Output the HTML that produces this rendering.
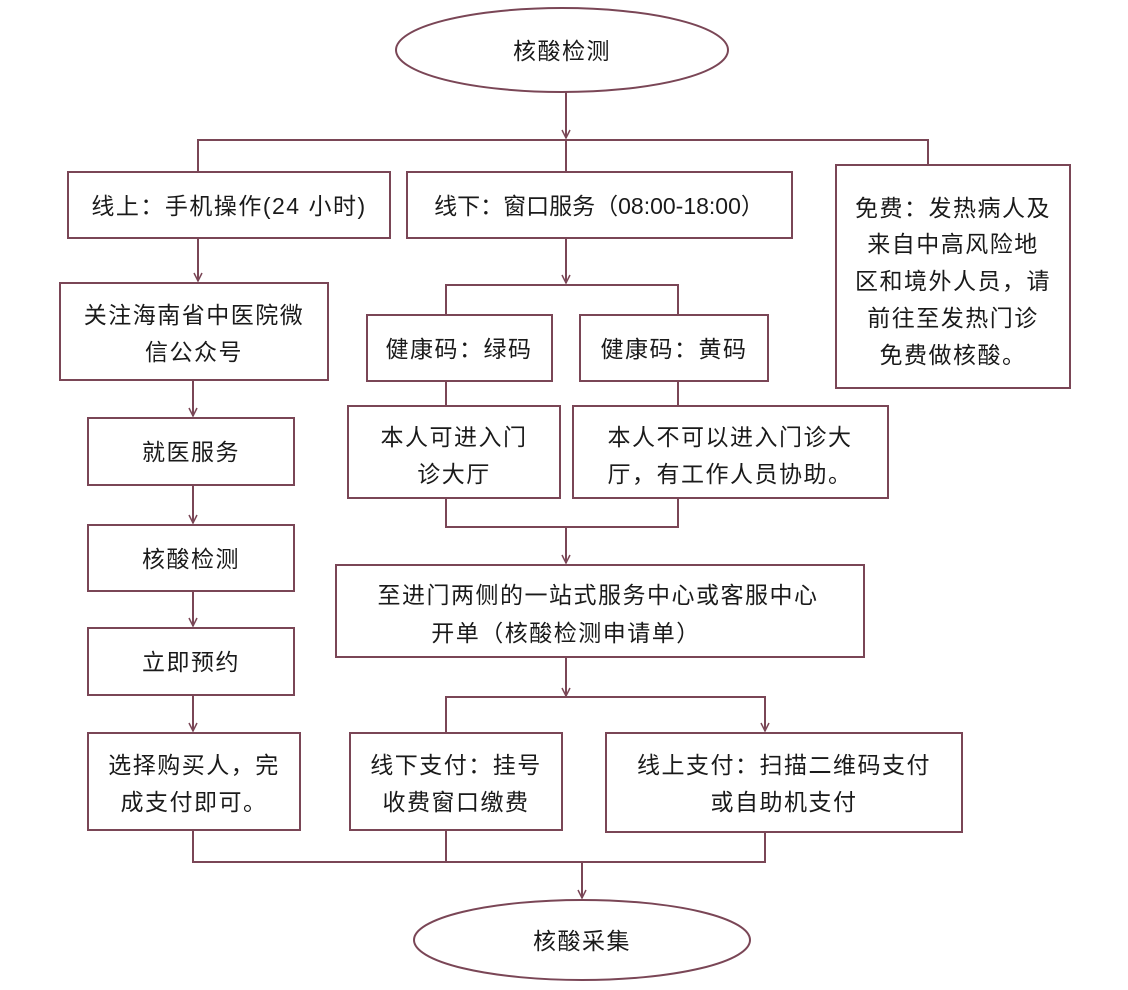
<!DOCTYPE html>
<html><head><meta charset="utf-8"><style>
html,body{margin:0;padding:0;background:#fff;}
svg{display:block;}
text{font-family:"Liberation Sans","Noto Sans CJK SC",sans-serif;font-size:23px;letter-spacing:1.5px;fill:#1a1a1a;text-anchor:middle;}
.b{fill:#fff;stroke:#7a4656;stroke-width:2;}
.l{stroke:#7a4656;stroke-width:2;fill:none;}
</style></head><body>
<svg width="1128" height="990" viewBox="0 0 1128 990">
<defs><marker id="a" markerWidth="12" markerHeight="12" refX="9" refY="6" orient="auto" markerUnits="userSpaceOnUse"><path d="M1,2 L9,6 L1,10" fill="none" stroke="#7a4656" stroke-width="1.5"/></marker></defs>
<ellipse class="b" cx="562" cy="50" rx="166" ry="42"/>
<text x="562" y="59">核酸检测</text>
<path class="l" d="M566 92 V138" marker-end="url(#a)"/>
<path class="l" d="M198 172 V140 H928 V165 M566 140 V172"/>
<rect class="b" x="68" y="172" width="322" height="66"/>
<text x="229" y="214">线上：手机操作(24 小时)</text>
<rect class="b" x="407" y="172" width="385" height="66"/>
<text x="599" y="214" style="letter-spacing:0">线下：窗口服务（08:00-18:00）</text>
<rect class="b" x="836" y="165" width="234" height="223"/>
<text x="953" y="216">免费：发热病人及</text>
<text x="953" y="252">来自中高风险地</text>
<text x="953" y="289">区和境外人员，请</text>
<text x="953" y="326">前往至发热门诊</text>
<text x="953" y="363">免费做核酸。</text>
<path class="l" d="M198 238 V281" marker-end="url(#a)"/>
<rect class="b" x="60" y="283" width="268" height="97"/>
<text x="194" y="323">关注海南省中医院微</text>
<text x="194" y="360">信公众号</text>
<path class="l" d="M193 380 V416" marker-end="url(#a)"/>
<rect class="b" x="88" y="418" width="206" height="67"/>
<text x="191" y="460">就医服务</text>
<path class="l" d="M193 485 V523" marker-end="url(#a)"/>
<rect class="b" x="88" y="525" width="206" height="66"/>
<text x="191" y="567">核酸检测</text>
<path class="l" d="M193 591 V626" marker-end="url(#a)"/>
<rect class="b" x="88" y="628" width="206" height="67"/>
<text x="191" y="670">立即预约</text>
<path class="l" d="M193 695 V731" marker-end="url(#a)"/>
<rect class="b" x="88" y="733" width="212" height="97"/>
<text x="194" y="773">选择购买人，完</text>
<text x="194" y="810">成支付即可。</text>
<path class="l" d="M566 238 V283" marker-end="url(#a)"/>
<path class="l" d="M446 315 V285 H678 V315"/>
<rect class="b" x="367" y="315" width="185" height="66"/>
<text x="459" y="357">健康码：绿码</text>
<rect class="b" x="580" y="315" width="188" height="66"/>
<text x="674" y="357">健康码：黄码</text>
<path class="l" d="M446 381 V406 M678 381 V406"/>
<rect class="b" x="348" y="406" width="212" height="92"/>
<text x="454" y="445">本人可进入门</text>
<text x="454" y="482">诊大厅</text>
<rect class="b" x="573" y="406" width="315" height="92"/>
<text x="730" y="445">本人不可以进入门诊大</text>
<text x="730" y="482">厅，有工作人员协助。</text>
<path class="l" d="M446 498 V527 H678 V498"/>
<path class="l" d="M566 527 V563" marker-end="url(#a)"/>
<rect class="b" x="336" y="565" width="528" height="92"/>
<text x="598" y="603">至进门两侧的一站式服务中心或客服中心</text>
<text x="566" y="641">开单（核酸检测申请单）</text>
<path class="l" d="M566 657 V696" marker-end="url(#a)"/>
<path class="l" d="M446 733 V697 H765 V710" />
<path class="l" d="M765 710 V731" marker-end="url(#a)"/>
<rect class="b" x="350" y="733" width="212" height="97"/>
<text x="456" y="773">线下支付：挂号</text>
<text x="456" y="810">收费窗口缴费</text>
<rect class="b" x="606" y="733" width="356" height="99"/>
<text x="784" y="773">线上支付：扫描二维码支付</text>
<text x="784" y="810">或自助机支付</text>
<path class="l" d="M193 830 V862 H765 V832 M446 830 V862"/>
<path class="l" d="M582 862 V898" marker-end="url(#a)"/>
<ellipse class="b" cx="582" cy="940" rx="168" ry="40"/>
<text x="582" y="949">核酸采集</text>
</svg>
</body></html>
